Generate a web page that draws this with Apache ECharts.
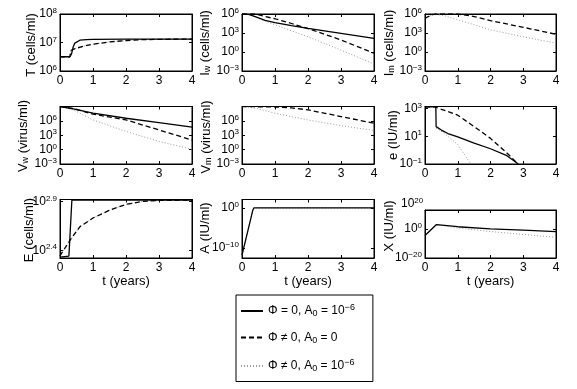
<!DOCTYPE html>
<html>
<head>
<meta charset="utf-8">
<script src="https://cdn.jsdelivr.net/npm/echarts@6/dist/echarts.min.js"></script>
<style>
  html, body { margin: 0; padding: 0; background: #fff; }
  #chart { width: 577px; height: 389px; }
</style>
</head>
<body>
<div id="chart"></div>
<script>
// values are log10 of the quantity ([t in years, exponent])
const xTicks = [0, 1, 2, 3, 4]

const T_solid = [[0, 6.5], [0.3, 6.5], [0.35, 6.6], [0.4, 6.85], [0.45, 6.98], [0.5, 7.04], [0.6, 7.08], [0.8, 7.1], [1, 7.11], [2, 7.12], [4, 7.12]]
const T_dashed = [[0, 6.5], [0.3, 6.5], [0.33, 6.72], [0.4, 6.76], [0.5, 6.8], [0.75, 6.88], [1, 6.94], [1.5, 7.02], [2, 7.07], [2.5, 7.1], [3, 7.11], [4, 7.12]]
const T_dotted = T_dashed

const Iw_solid = [[0, 6], [0.2, 5.95], [0.4, 5.6], [0.7, 5.0], [1, 4.65], [1.5, 4.15], [2, 3.72], [3, 2.93], [4, 2.15]]
const Iw_dashed = [[0, 6], [0.4, 6], [0.7, 5.6], [1, 5.25], [1.5, 4.5], [2, 3.7], [3, 1.9], [4, -0.2]]
const Iw_dotted = [[0, 6], [0.25, 5.9], [0.5, 5.3], [1, 4.3], [2, 2.4], [3, 0.3], [4, -1.9]]

const Im_dashed = [[0, 5.3], [0.1, 5.6], [0.3, 6], [1, 6], [1.5, 5.6], [2, 4.95], [3, 3.9], [4, 2.8]]
const Im_dotted = [[0, 5.3], [0.1, 5.6], [0.3, 6], [0.6, 5.7], [1, 5.1], [2, 3.5], [3, 2.4], [4, 1.4]]

const Vw_solid = [[0, 9], [0.4, 8.5], [1, 7.6], [2, 6.55], [3, 5.65], [4, 4.7]]
const Vw_dashed = [[0, 9], [0.4, 8.6], [1, 7.4], [2, 6.2], [3, 4.1], [4, 2.0]]
const Vw_dotted = [[0, 9], [0.4, 8.3], [1, 6.2], [2, 3.8], [3, 1.7], [4, 0.1]]

const Vm_dashed = [[0, 9], [1, 8.9], [1.5, 8.7], [2, 8.3], [3, 6.9], [4, 5.5]]
const Vm_dotted = [[0, 9], [0.45, 8.6], [1, 7.6], [2, 6.2], [3, 5.0], [4, 4.0]]

const e_solid = [[0, 3.12], [0.33, 3.12], [0.34, 1.7], [0.5, 1.45], [0.7, 1.2], [1, 0.95], [1.5, 0.5], [2, 0.1], [2.5, -0.4], [2.85, -1]]
const e_dashed = [[0, 3.12], [0.3, 3.12], [0.5, 2.95], [0.75, 2.75], [1, 2.52], [1.5, 1.7], [2, 0.85], [2.5, -0.2], [2.8, -0.9], [2.85, -1]]
const e_dotted = [[0.34, 1.6], [0.6, 1.2], [1, 0.4], [1.2, -0.3], [1.4, -1]]

const E_solid = [[0, 2.33], [0.27, 2.34], [0.36, 2.915], [4, 2.915]]
const E_dashed = [[0, 2.34], [0.05, 2.37], [0.3, 2.5], [0.6, 2.64], [1, 2.73], [1.5, 2.81], [2, 2.87], [2.5, 2.9], [3, 2.91], [4, 2.915]]
const E_dotted = E_dashed

const A_solid = [[0, -11.8], [0.33, -0.5], [0.36, 0], [4, 0]]
const A_dotted = A_solid

const X_solid = [[0, -4.5], [0.35, 3], [1, 1.5], [2, 0], [3, -0.9], [4, -1.8]]
const X_dotted = [[0, -4.5], [0.35, 3], [1, 0.6], [2, -1.8], [3, -3.8], [4, -5.8]]

// y tick exponents per panel
const T_ticks = [6, 7, 8]
const I_ticks = [-3, 0, 3, 6]
const V_ticks = [-3, 0, 3, 6]
const e_ticks = [-1, 1, 3]
const E_ticks = [2.4, 2.9]
const A_ticks = [-10, 0]
const X_ticks = [-20, 0]

const font = 'Liberation Sans, Arial, sans-serif'
const styles = {
  s: { color: '#000', width: 1.3, type: 'solid' },
  d: { color: '#000', width: 1.3, type: [5, 3] },
  o: { color: '#9a9a9a', width: 1, type: [1, 2] }
}

// tx/ty: centre of the rotated y title
const panels = [
  { left: 60, top: 14, w: 132, h: 57, min: 6, max: 8, ticks: T_ticks, name: '{r|T}{n| (cells/ml)}', tx: 31, ty: 45, lines: { o: T_dotted, d: T_dashed, s: T_solid } },
  { left: 242, top: 14, w: 132, h: 57, min: -3, max: 6, ticks: I_ticks, name: '{n|I}{sub|w}{n| (cells/ml)}', tx: 205, ty: 43, lines: { o: Iw_dotted, d: Iw_dashed, s: Iw_solid } },
  { left: 425, top: 14, w: 131, h: 57, min: -3, max: 6, ticks: I_ticks, name: '{n|I}{sub|m}{n| (cells/ml)}', tx: 389, ty: 43, lines: { o: Im_dotted, d: Im_dashed } },
  { left: 60, top: 106.5, w: 132, h: 57.5, min: -3, max: 9, ticks: V_ticks, name: '{n|V}{sub|w}{n| (virus/ml)}', tx: 23, ty: 136, lines: { o: Vw_dotted, d: Vw_dashed, s: Vw_solid } },
  { left: 242, top: 106.5, w: 132, h: 57.5, min: -3, max: 9, ticks: V_ticks, name: '{n|V}{sub|m}{n| (virus/ml)}', tx: 206, ty: 137, lines: { o: Vm_dotted, d: Vm_dashed } },
  { left: 425, top: 106.5, w: 131, h: 57.5, min: -1, max: 3.15, ticks: e_ticks, name: '{n|e (IU/ml)}', tx: 393, ty: 135, lines: { o: e_dotted, d: e_dashed, s: e_solid } },
  { left: 60, top: 199.5, w: 132, h: 58.5, min: 2.32, max: 2.92, ticks: E_ticks, name: '{r|E}{n| (cells/ml)}', tx: 29, ty: 230, xname: true, lines: { o: E_dotted, d: E_dashed, s: E_solid } },
  { left: 242, top: 199.5, w: 132, h: 58.5, min: -12.5, max: 2.1, ticks: A_ticks, name: '{n|A (IU/ml)}', tx: 205, ty: 228, xname: true, lines: { o: A_dotted, s: A_solid } },
  { left: 425, top: 210, w: 131, h: 48, min: -20, max: 13, ticks: X_ticks, name: '{n|X (IU/ml)}', tx: 389, ty: 226, xname: true, lines: { o: X_dotted, s: X_solid } }
]

const expText = v => {
  const r = Math.round(v * 10) / 10
  return (r < 0 ? '\u2212' + Math.abs(r) : '' + r)
}
const supRich = {
  b: { fontSize: 12, fontFamily: font, color: '#000' },
  s: { fontSize: 8, fontFamily: font, color: '#000', verticalAlign: 'top', padding: [0, 0, 6, 0] }
}
const nameRich = {
  n: { fontSize: 13, fontFamily: font, color: '#000' },
  r: { fontSize: 13, fontFamily: font, color: '#b5461c' },
  sub: { fontSize: 9, fontFamily: font, color: '#000', padding: [6, 0, 0, 0] }
}
const tickStyle = { show: true, inside: true, length: 3, lineStyle: { color: '#000' } }

const grid = [], xAxis = [], yAxis = [], series = [], graphic = []
panels.forEach((p, i) => {
  grid.push({ left: p.left, top: p.top, width: p.w, height: p.h, show: true, borderColor: '#000', borderWidth: 1, backgroundColor: '#fff' })
  // bottom axis with labels, plus a bare top axis for the mirrored ticks
  xAxis.push({
    gridIndex: i, type: 'value', min: 0, max: 4, interval: 1, position: 'bottom',
    name: p.xname ? 't (years)' : '', nameLocation: 'middle', nameGap: 15,
    nameTextStyle: { fontSize: 13, fontFamily: font, color: '#000' },
    axisLine: { onZero: false, lineStyle: { color: '#000' } },
    axisTick: tickStyle,
    axisLabel: { fontSize: 12, fontFamily: font, color: '#000', margin: 4 },
    splitLine: { show: false }
  })
  xAxis.push({
    gridIndex: i, type: 'value', min: 0, max: 4, interval: 1, position: 'top',
    axisLine: { onZero: false, lineStyle: { color: '#000' } },
    axisTick: tickStyle, axisLabel: { show: false }, splitLine: { show: false }
  })
  yAxis.push({
    gridIndex: i, type: 'value', min: p.min, max: p.max, position: 'left',
    axisLine: { show: true, onZero: false, lineStyle: { color: '#000' } },
    axisTick: Object.assign({ customValues: p.ticks }, tickStyle),
    axisLabel: { customValues: p.ticks, margin: 3, formatter: v => '{b|10}{s|' + expText(v) + '}', rich: supRich },
    splitLine: { show: false }
  })
  yAxis.push({
    gridIndex: i, type: 'value', min: p.min, max: p.max, position: 'right',
    axisLine: { show: true, onZero: false, lineStyle: { color: '#000' } },
    axisTick: Object.assign({ customValues: p.ticks }, tickStyle),
    axisLabel: { show: false }, splitLine: { show: false }
  })
  graphic.push({
    type: 'text', x: p.tx, y: p.ty, rotation: Math.PI / 2,
    style: { text: p.name, rich: nameRich, align: 'center', verticalAlign: 'middle' }
  })
  ;['o', 'd', 's'].forEach(k => {
    if (!p.lines[k]) return
    series.push({
      name: k, type: 'line', xAxisIndex: 2 * i, yAxisIndex: 2 * i, data: p.lines[k],
      symbol: 'none', clip: true, lineStyle: styles[k], itemStyle: { color: styles[k].color },
      animation: false
    })
  })
})
graphic.push({
  type: 'text', left: 401, top: 197,
  style: { text: '{b|10}{s|20}', rich: supRich }
})

const legendText = {
  s: '{t|\u03A6 = 0, A}{sub|0}{t| = 10}{sup|\u22126}',
  d: '{t|\u03A6 \u2260 0, A}{sub|0}{t| = 0}',
  o: '{t|\u03A6 \u2260 0, A}{sub|0}{t| = 10}{sup|\u22126}'
}

const chart = echarts.init(document.getElementById('chart'))
chart.setOption({
  animation: false,
  grid, xAxis, yAxis, series, graphic,
  legend: {
    data: ['s', 'd', 'o'], orient: 'vertical', left: 236, top: 295,
    itemWidth: 22, itemHeight: 12, itemGap: 13,
    borderColor: '#000', borderWidth: 1, padding: [8, 18, 8, 4],
    selectedMode: false,
    itemStyle: { opacity: 0 },
    formatter: n => legendText[n],
    textStyle: {
      rich: {
        t: { fontSize: 12, fontFamily: font, color: '#000' },
        sub: { fontSize: 9, fontFamily: font, color: '#000', padding: [6, 0, 0, 0] },
        sup: { fontSize: 9, fontFamily: font, color: '#000', padding: [0, 0, 7, 0] }
      }
    }
  }
})
window.addEventListener('resize', () => chart.resize())
</script>
</body>
</html>
